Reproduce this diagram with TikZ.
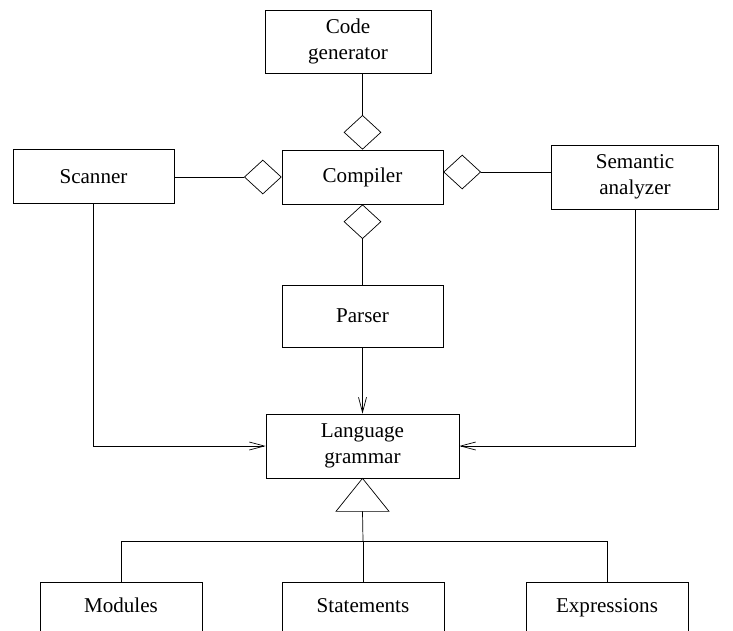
\documentclass[tikz,border=0pt]{standalone}
\usepackage{fontspec}
\setmainfont{Liberation Serif}
\usetikzlibrary{shapes.geometric,arrows.meta}
\tikzset{
  box/.style={draw,minimum width=3.22cm,minimum height=1.08cm,align=center,
    font=\fontsize{12}{14.5}\selectfont,inner sep=2pt},
  agg/.style={draw,diamond,inner sep=0pt,minimum width=0.74cm,minimum height=0.68cm},
  uses/.style={-{Straight Barb[length=3mm,width=1.6mm]}},
  leaf/.style={draw,minimum width=3.24cm,anchor=north,inner ysep=8.5pt,
    text height=8.5pt,text depth=12pt,font=\fontsize{12}{14.5}\selectfont}
}
\begin{document}
\begin{tikzpicture}[x=0.02cm,y=-0.02cm]
        \clip (0,0) rectangle (733,630);
        \node[box,minimum width=3.32cm,minimum height=1.26cm] (codegen) at (348,41.5) {Code\\generator};
        \node[box] (compiler) at (362.5,177) {Compiler};
        \node[box] (scanner) at (93.5,176.5) {Scanner};
        \node[box,minimum width=3.34cm,minimum height=1.28cm] (semantic) at (635,177) {Semantic\\analyzer};
        \node[box,minimum height=1.24cm] (parser) at (362.5,316) {Parser};
        \node[box,minimum width=3.86cm,minimum height=1.28cm] (grammar) at (362.5,446) {Language\\grammar};
        \node[leaf] (modules) at (121,582) {Modules};
        \node[leaf] (statements) at (363,582) {Statements};
        \node[leaf] (expressions) at (607,582) {Expressions};
        % aggregation diamonds
        \node[agg,anchor=south] (dtop) at (compiler.north) {};
        \node[agg,anchor=north] (dbot) at (compiler.south) {};
        \node[agg,anchor=east] (dleft) at (compiler.west) {};
        \node[agg,anchor=west] (dright) at ([yshift=0.1cm]compiler.east) {};
        \draw (dtop.north) -- (dtop.north |- codegen.south);
        \draw (dbot.south) -- (parser.north);
        \draw (dleft.west) -- (dleft.west -| scanner.east);
        \draw (dright.east) -- (dright.east -| semantic.west);
        % dependencies
        \draw[uses] (parser) -- (grammar);
        \draw[uses] (scanner) |- (grammar);
        \draw[uses] (semantic) |- (grammar);
        % generalization
        \draw (grammar.south) -- ++(-26.5,33) -- ++(53,0) -- cycle;
        \path (grammar.south) ++(0,33) coordinate (tbase);
        \coordinate (bus) at (363,541);
        \draw (tbase) -- (bus);
        \draw (modules.north) |- (bus) -| (expressions.north);
        \draw (statements.north) -- (bus);
\end{tikzpicture}
\end{document}
